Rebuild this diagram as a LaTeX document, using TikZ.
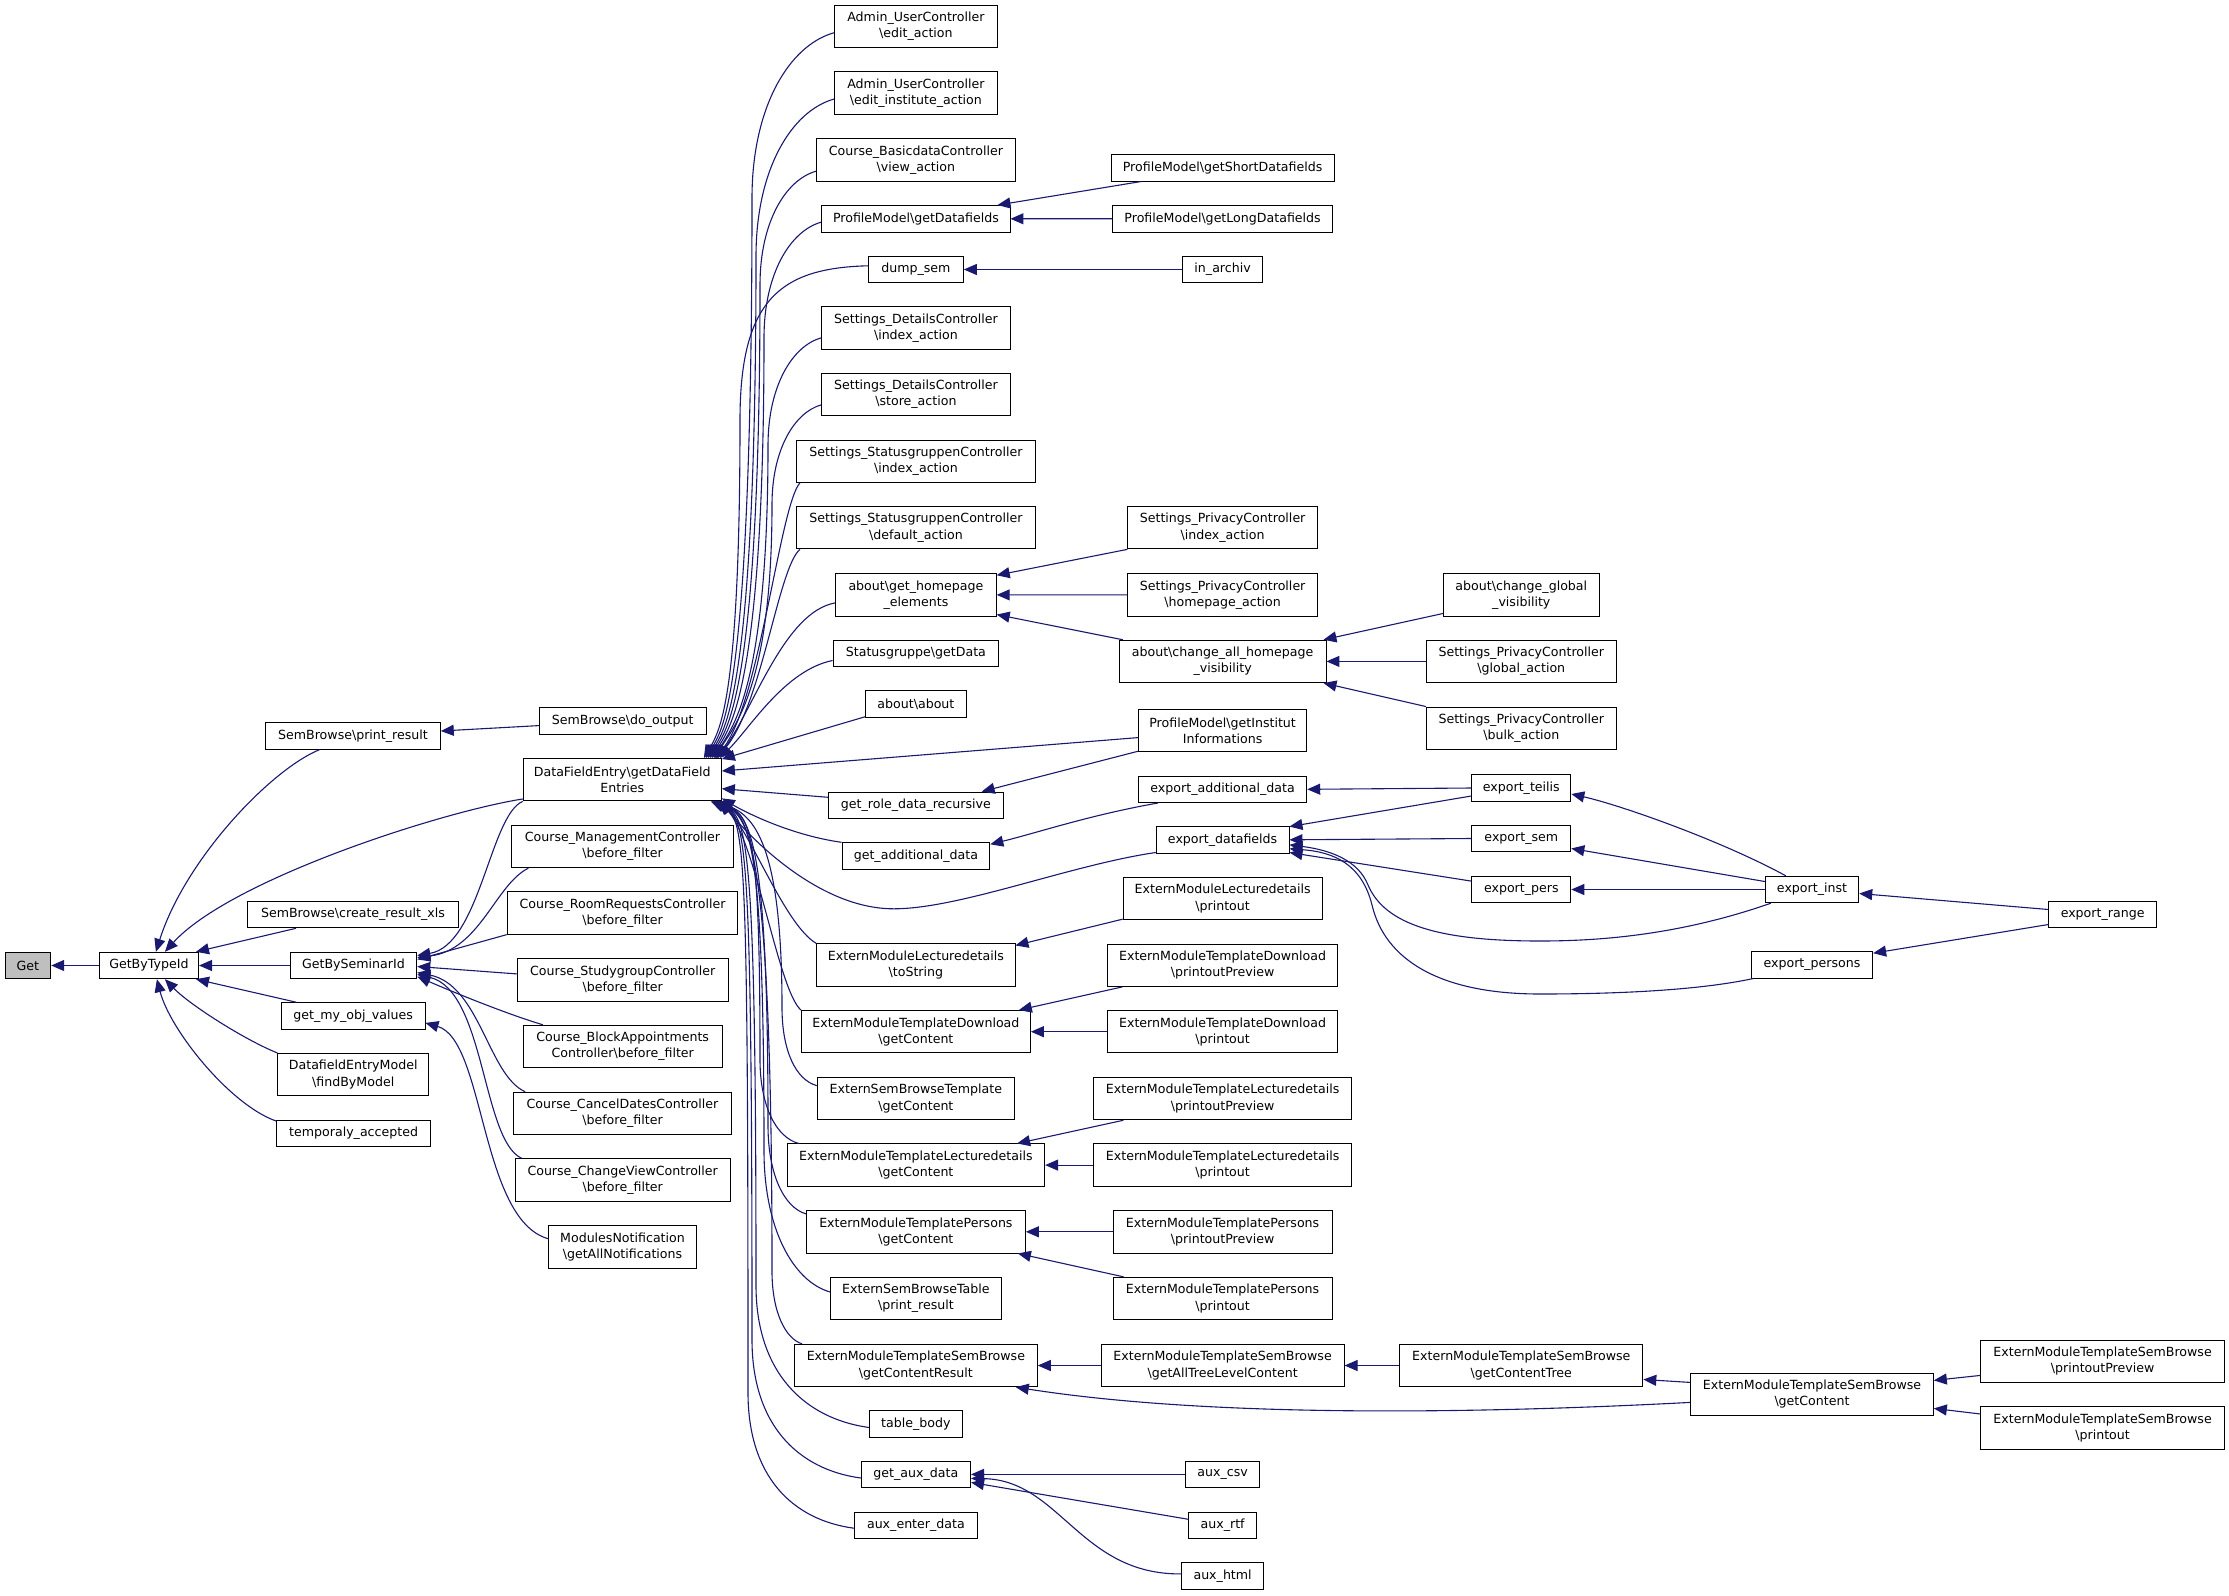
\documentclass[tikz,border=0pt]{standalone}
\usepackage{fontspec}
\setmainfont{DejaVu Sans}
\usetikzlibrary{arrows.meta,calc}
\definecolor{edgeblue}{HTML}{191970}
\definecolor{getgrey}{HTML}{BFBFBF}
\newcommand\dgfont{\fontsize{12.6pt}{16.2pt}\selectfont}
\newcommand\dbs{\textbackslash}
\tikzset{
  n/.style={draw=black, line width=0.9pt, fill=white, inner sep=0pt, minimum height=26.5pt, align=center, font=\dgfont},
  nn/.style={n, minimum height=42.4pt},
  e/.style={draw=edgeblue, line width=1.1pt, -{Triangle[length=13pt,width=11pt]}},
}
\begin{document}
\begin{tikzpicture}[x=1pt,y=-1pt]
\fill[white] (0,0) rectangle (2229,1595);
\useasboundingbox (0,0) rectangle (2229,1595);

% column 0-2
\node[n, fill=getgrey, minimum width=45.7pt] (get) at (27.9,965.5) {Get};
\node[n, minimum width=99.3pt] (gbt) at (148.9,965.5) {GetByTypeId};
\node[n, minimum width=174.6pt] (sbprint) at (353,735.9) {SemBrowse\dbs print\_result};
\node[n, minimum width=210.4pt] (sbcreate) at (353,914.6) {SemBrowse\dbs create\_result\_xls};
\node[n, minimum width=126.8pt] (gbs) at (353.4,965.5) {GetBySeminarId};
\node[n, minimum width=143.6pt] (gmov) at (353.2,1015.9) {get\_my\_obj\_values};
\node[nn, minimum width=150.7pt] (demfind) at (353.2,1074.6) {DatafieldEntryModel\\\dbs findByModel};
\node[n, minimum width=153.6pt] (tempacc) at (353.6,1133.4) {temporaly\_accepted};

% column 3
\node[n, minimum width=166.8pt] (sbdo) at (622.7,721.1) {SemBrowse\dbs do\_output};
\node[nn, minimum width=198.2pt] (dfe) at (622.3,779.7) {DataFieldEntry\dbs getDataField\\Entries};
\node[nn, minimum width=221.4pt] (cmgmt) at (622.5,846.5) {Course\_ManagementController\\\dbs before\_filter};
\node[nn, minimum width=230.8pt] (croom) at (622.5,913) {Course\_RoomRequestsController\\\dbs before\_filter};
\node[nn, minimum width=211pt] (cstudy) at (622.7,979.9) {Course\_StudygroupController\\\dbs before\_filter};
\node[nn, minimum width=198.9pt] (cblock) at (622.7,1046.4) {Course\_BlockAppointments\\Controller\dbs before\_filter};
\node[nn, minimum width=217.8pt] (ccancel) at (622.5,1113.4) {Course\_CancelDatesController\\\dbs before\_filter};
\node[nn, minimum width=215.4pt] (cchange) at (622.7,1179.9) {Course\_ChangeViewController\\\dbs before\_filter};
\node[nn, minimum width=147.2pt] (modnot) at (622.5,1246.8) {ModulesNotification\\\dbs getAllNotifications};

% column 4
\node[nn, minimum width=162.5pt] (adminedit) at (915.9,26.3) {Admin\_UserController\\\dbs edit\_action};
\node[nn, minimum width=162.5pt] (admininst) at (915.9,93) {Admin\_UserController\\\dbs edit\_institute\_action};
\node[nn, minimum width=198.2pt] (cbasic) at (915.9,160.1) {Course\_BasicdataController\\\dbs view\_action};
\node[n, minimum width=188.2pt] (pmgetdf) at (915.9,218.8) {ProfileModel\dbs getDatafields};
\node[n, minimum width=95pt] (dumpsem) at (915.9,269.5) {dump\_sem};
\node[nn, minimum width=188.2pt] (sdindex) at (915.9,327.8) {Settings\_DetailsController\\\dbs index\_action};
\node[nn, minimum width=188.2pt] (sdstore) at (915.9,394.3) {Settings\_DetailsController\\\dbs store\_action};
\node[nn, minimum width=239pt] (ssindex) at (915.9,461.2) {Settings\_StatusgruppenController\\\dbs index\_action};
\node[nn, minimum width=239pt] (ssdefault) at (915.9,527.7) {Settings\_StatusgruppenController\\\dbs default\_action};
\node[nn, minimum width=160.7pt] (abouthome) at (915.9,594.9) {about\dbs get\_homepage\\\_elements};
\node[n, minimum width=165.7pt] (stgetdata) at (915.9,653.5) {Statusgruppe\dbs getData};
\node[n, minimum width=100.4pt] (aboutabout) at (915.9,704) {about\dbs about};
\node[n, minimum width=174.6pt] (getrole) at (915.9,805.3) {get\_role\_data\_recursive};
\node[n, minimum width=147.9pt] (getadd) at (915.9,856) {get\_additional\_data};
\node[nn, minimum width=198.2pt] (emltostr) at (915.9,965.1) {ExternModuleLecturedetails\\\dbs toString};
\node[nn, minimum width=229pt] (emtdget) at (915.9,1031.7) {ExternModuleTemplateDownload\\\dbs getContent};
\node[nn, minimum width=197.5pt] (esbtget) at (915.9,1098.6) {ExternSemBrowseTemplate\\\dbs getContent};
\node[nn, minimum width=257.5pt] (emtlget) at (915.9,1165.1) {ExternModuleTemplateLecturedetails\\\dbs getContent};
\node[nn, minimum width=219pt] (emtpget) at (915.9,1231.8) {ExternModuleTemplatePersons\\\dbs getContent};
\node[nn, minimum width=170.7pt] (esbtable) at (915.9,1298.5) {ExternSemBrowseTable\\\dbs print\_result};
\node[nn, minimum width=242.8pt] (emtsbres) at (915.9,1365.5) {ExternModuleTemplateSemBrowse\\\dbs getContentResult};
\node[n, minimum width=92.5pt] (tablebody) at (915.9,1423.9) {table\_body};
\node[n, minimum width=109.3pt] (getaux) at (915.9,1474.4) {get\_aux\_data};
\node[n, minimum width=122.9pt] (auxenter) at (915.9,1525.2) {aux\_enter\_data};

% column 5
\node[n, minimum width=223pt] (pmshort) at (1222.6,167.9) {ProfileModel\dbs getShortDatafields};
\node[n, minimum width=219.4pt] (pmlong) at (1222.6,218.7) {ProfileModel\dbs getLongDatafields};
\node[n, minimum width=79.6pt] (inarchiv) at (1222.6,269.5) {in\_archiv};
\node[nn, minimum width=189.4pt] (spindex) at (1222.6,527.7) {Settings\_PrivacyController\\\dbs index\_action};
\node[nn, minimum width=189.4pt] (sphome) at (1222.6,594.8) {Settings\_PrivacyController\\\dbs homepage\_action};
\node[nn, minimum width=206.8pt] (aboutall) at (1222.6,661.4) {about\dbs change\_all\_homepage\\\_visibility};
\node[nn, minimum width=168.3pt] (pminst) at (1222.6,730.6) {ProfileModel\dbs getInstitut\\Informations};
\node[n, minimum width=168.3pt] (expadd) at (1222.6,789.3) {export\_additional\_data};
\node[n, minimum width=132.8pt] (expdf) at (1222.6,839.8) {export\_datafields};
\node[nn, minimum width=199pt] (emlprint) at (1222.6,898.5) {ExternModuleLecturedetails\\\dbs printout};
\node[nn, minimum width=229.4pt] (emtdprev) at (1222.6,965.2) {ExternModuleTemplateDownload\\\dbs printoutPreview};
\node[nn, minimum width=229.4pt] (emtdprint) at (1222.6,1031.7) {ExternModuleTemplateDownload\\\dbs printout};
\node[nn, minimum width=257.5pt] (emtlprev) at (1222.6,1098.6) {ExternModuleTemplateLecturedetails\\\dbs printoutPreview};
\node[nn, minimum width=257.5pt] (emtlprint) at (1222.6,1165.1) {ExternModuleTemplateLecturedetails\\\dbs printout};
\node[nn, minimum width=219pt] (emtpprev) at (1222.6,1231.8) {ExternModuleTemplatePersons\\\dbs printoutPreview};
\node[nn, minimum width=219pt] (emtpprint) at (1222.6,1298.5) {ExternModuleTemplatePersons\\\dbs printout};
\node[nn, minimum width=243pt] (emtsbtree) at (1222.6,1365.5) {ExternModuleTemplateSemBrowse\\\dbs getAllTreeLevelContent};
\node[n, minimum width=73.6pt] (auxcsv) at (1222.6,1474.4) {aux\_csv};
\node[n, minimum width=67.4pt] (auxrtf) at (1222.6,1525.3) {aux\_rtf};
\node[n, minimum width=81.4pt] (auxhtml) at (1222.6,1575.9) {aux\_html};

% column 6
\node[nn, minimum width=155.4pt] (aboutglobal) at (1521.3,594.8) {about\dbs change\_global\\\_visibility};
\node[nn, minimum width=189.8pt] (spglobal) at (1521.3,661.4) {Settings\_PrivacyController\\\dbs global\_action};
\node[nn, minimum width=189.8pt] (spbulk) at (1521.3,728.2) {Settings\_PrivacyController\\\dbs bulk\_action};
\node[n, minimum width=99.1pt] (expteilis) at (1521.3,788) {export\_teilis};
\node[n, minimum width=99.1pt] (expsem) at (1521.3,838.5) {export\_sem};
\node[n, minimum width=99.1pt] (exppers) at (1521.3,889.5) {export\_pers};
\node[nn, minimum width=243.1pt] (emtsbctree) at (1521.3,1365.5) {ExternModuleTemplateSemBrowse\\\dbs getContentTree};

% column 7
\node[n, minimum width=93.5pt] (expinst) at (1812,889.5) {export\_inst};
\node[n, minimum width=121.3pt] (exppersons) at (1812,964.9) {export\_persons};
\node[nn, minimum width=242.7pt] (emtsbget) at (1812,1394.4) {ExternModuleTemplateSemBrowse\\\dbs getContent};

% column 8
\node[n, minimum width=107.5pt] (exprange) at (2102.6,914.5) {export\_range};
\node[nn, minimum width=243.4pt] (emtsbprev) at (2102.6,1361.4) {ExternModuleTemplateSemBrowse\\\dbs printoutPreview};
\node[nn, minimum width=243.4pt] (emtsbprint) at (2102.6,1428) {ExternModuleTemplateSemBrowse\\\dbs printout};

% ---- edges: left columns
\draw[e] (gbt.west) -- (get.east);
\draw[e] ($(sbprint.south)+(-33.4,0)$) .. controls (270,770) and (185,860) .. ($(gbt.north)+(7,0)$);
\draw[e] ($(dfe.south west)+(0,-2.4)$) .. controls (440,812) and (230,880) .. ($(gbt.north)+(16,0)$);
\draw[e] ($(sbcreate.south)+(-57,0)$) -- ($(gbt.north east)+(-3,0)$);
\draw[e] (gbs.west) -- (gbt.east);
\draw[e] ($(gmov.north)+(-57,0)$) -- ($(gbt.south east)+(-3,0)$);
\draw[e] (demfind.north west) .. controls (245,1040) and (190,1005) .. ($(gbt.south)+(16,0)$);
\draw[e] ($(tempacc.north west)+(0,1.4)$) .. controls (230,1105) and (170,1030) .. ($(gbt.south)+(8,0)$);
\draw[e] ($(sbdo.west)+(0,4.5)$) -- ($(sbprint.east)+(0,-4.9)$);

% ---- GetBySeminarId callers
\draw[e] (dfe.south west) .. controls (490,815) and (480,945) .. ($(gbs.east)+(0,-10)$);
\draw[e] ($(cmgmt.south west)+(17,0)$) .. controls (495,885) and (480,950) .. ($(gbs.east)+(0,-8)$);
\draw[e] (croom.south west) -- ($(gbs.east)+(0,-6)$);
\draw[e] ($(cstudy.west)+(0,-6)$) -- ($(gbs.east)+(0,1)$);
\draw[e] ($(cblock.north west)+(20,0)$) .. controls (510,1015) and (460,995) .. ($(gbs.east)+(0,11)$);
\draw[e] ($(ccancel.north west)+(12,0)$) .. controls (488,1075) and (480,985) .. ($(gbs.east)+(0,7)$);
\draw[e] ($(cchange.north west)+(7,0)$) .. controls (482,1140) and (485,990) .. ($(gbs.east)+(0,9)$);
\draw[e] ($(modnot.west)+(0,-8)$) .. controls (480,1220) and (485,1040) .. ($(gmov.east)+(0,7)$);

% ---- DataFieldEntry callers above
\draw[e] ($(adminedit.west)+(0,6.4)$) .. controls (789.2,45.1) and (752,107) .. (752,197.9) .. controls (752,688.3) and (723.4,728.3) .. ($(dfe.north east)+(-16,0)$);
\draw[e] ($(admininst.west)+(0,6)$) .. controls (791.4,110.8) and (756,169.7) .. (756,256.2) .. controls (756,688.3) and (725.4,728.3) .. ($(dfe.north east)+(-14,0)$);
\draw[e] ($(cbasic.west)+(0,11)$) .. controls (785.6,179.6) and (760,222.2) .. (760,284.7) .. controls (760,688.3) and (727.4,728.3) .. ($(dfe.north east)+(-12,0)$);
\draw[e] ($(pmgetdf.west)+(0,3.3)$) .. controls (790,230.8) and (764,274.1) .. (764,337.7) .. controls (764,688.3) and (729.4,728.3) .. ($(dfe.north east)+(-10,0)$);
\draw[e] ($(dumpsem.west)+(0,-3.7)$) .. controls (780,268) and (740,300) .. (740,420) .. controls (740,688.3) and (721.4,728.3) .. ($(dfe.north east)+(-18,0)$);
\draw[e] ($(sdindex.west)+(0,10)$) .. controls (792.2,345.9) and (768,386.2) .. (768,445.4) .. controls (768,688.3) and (731.4,728.3) .. ($(dfe.north east)+(-8,0)$);
\draw[e] ($(sdstore.west)+(0,10.5)$) .. controls (794.4,412.3) and (772,449.6) .. (772,504.4) .. controls (772,688.3) and (732.4,728.3) .. ($(dfe.north east)+(-7,0)$);
\draw[e] ($(ssindex.south west)+(4,0)$) .. controls (780,505) and (760,700) .. ($(dfe.north east)+(-6,0)$);
\draw[e] ($(ssdefault.south west)+(4,0)$) .. controls (778,568) and (762,705) .. ($(dfe.north east)+(-5,0)$);
\draw[e] ($(abouthome.west)+(0,8)$) .. controls (785,612) and (755,705) .. ($(dfe.north east)+(-4,0)$);
\draw[e] ($(stgetdata.west)+(0,7)$) .. controls (785,670) and (750,728) .. ($(dfe.north east)+(-2,0)$);
\draw[e] ($(aboutabout.south west)+(0,-1)$) -- ($(dfe.north east)+(0,1)$);

% ---- DataFieldEntry callers right / below
\draw[e] ($(pminst.west)+(0,7)$) -- ($(dfe.east)+(0,-8.7)$);
\draw[e] ($(getrole.west)+(0,-8)$) -- ($(dfe.east)+(0,9)$);
\draw[e] (getadd.north west) .. controls (790,835) and (745,812) .. ($(dfe.south east)+(0,-3)$);
\draw[e] ($(expdf.south west)+(0,-1)$) .. controls (1070,865) and (960,908.8) .. (893.6,908.8) .. controls (820,908.8) and (752,840) .. ($(dfe.south east)+(-1,0)$);
\draw[e] (emltostr.north west) .. controls (785,925) and (752,835) .. ($(dfe.south east)+(-2,0)$);
\draw[e] (emtdget.north west) .. controls (778,990) and (756,840) .. ($(dfe.south east)+(-3,0)$);
\draw[e] ($(esbtget.west)+(0,-13)$) .. controls (795.6,1079.7) and (782,1050.4) .. (782,1007.4) .. controls (782,841) and (752.4,816) .. ($(dfe.south east)+(-4,0)$);
\draw[e] ($(emtlget.north west)+(12,0)$) .. controls (775.9,1137.3) and (760,1105.7) .. (760,1059.4) .. controls (760,841) and (751.4,816) .. ($(dfe.south east)+(-5,0)$);
\draw[e] ($(emtpget.north west)+(0,3.7)$) .. controls (784,1207.5) and (768,1174.2) .. (768,1125.4) .. controls (768,841) and (750.4,816) .. ($(dfe.south east)+(-6,0)$);
\draw[e] ($(esbtable.west)+(0,-6.5)$) .. controls (793,1281.4) and (764,1228.4) .. (764,1150.6) .. controls (764,841) and (749.4,816) .. ($(dfe.south east)+(-7,0)$);
\draw[e] ($(emtsbres.north west)+(8,0)$) .. controls (785,1338.5) and (772,1311.2) .. (772,1271.3) .. controls (772,841) and (748.4,816) .. ($(dfe.south east)+(-8,0)$);
\draw[e] ($(tablebody.west)+(0,3.6)$) .. controls (805,1418.8) and (756,1372.9) .. (756,1285.4) .. controls (756,841) and (747.4,816) .. ($(dfe.south east)+(-9,0)$);
\draw[e] ($(getaux.west)+(0,3.6)$) .. controls (798,1469.5) and (752,1424.8) .. (752,1339.7) .. controls (752,841) and (746.4,816) .. ($(dfe.south east)+(-10,0)$);
\draw[e] ($(auxenter.west)+(0,3)$) .. controls (792,1519.9) and (748,1476) .. (748,1392.6) .. controls (748,841) and (745.4,816) .. ($(dfe.south east)+(-11,0)$);

% ---- right part
\draw[e] ($(pmshort.south west)+(30,0)$) -- ($(pmgetdf.north east)+(-13,0)$);
\draw[e] (pmlong.west) -- (pmgetdf.east);
\draw[e] (inarchiv.west) -- (dumpsem.east);
\draw[e] (spindex.south west) -- ($(abouthome.north east)+(0,2)$);
\draw[e] (sphome.west) -- (abouthome.east);
\draw[e] ($(aboutall.north west)+(4,0)$) -- ($(abouthome.south east)+(0,-2)$);
\draw[e] ($(aboutglobal.south west)+(0,-3)$) -- ($(aboutall.north east)+(-3,0)$);
\draw[e] (spglobal.west) -- (aboutall.east);
\draw[e] (spbulk.north west) -- ($(aboutall.south east)+(-3,0)$);
\draw[e] ($(pminst.south west)+(0,-1)$) -- ($(getrole.north east)+(-22,0)$);
\draw[e] ($(expadd.south west)+(20,0)$) .. controls (1090,815) and (1040,832) .. ($(getadd.north east)+(0,2)$);
\draw[e] (expteilis.west) -- (expadd.east);
\draw[e] ($(expteilis.west)+(0,8)$) -- ($(expdf.north east)+(0,0.5)$);
\draw[e] (expsem.west) -- (expdf.east);
\draw[e] ($(exppers.west)+(0,-8.4)$) -- ($(expdf.south east)+(0,-1)$);
\draw[e] ($(expinst.south west)+(6,0)$) .. controls (1680,935) and (1600,941) .. (1540,941) .. controls (1440,941) and (1385,925) .. (1368,885) .. controls (1358,860) and (1330,850) .. ($(expdf.east)+(0,5)$);
\draw[e] ($(exppersons.south west)+(2,0)$) .. controls (1700,990) and (1620,994) .. (1540,994) .. controls (1440,994) and (1385,960) .. (1372,905) .. controls (1362,865) and (1335,852) .. ($(expdf.east)+(0,9)$);
\draw[e] ($(expinst.north west)+(21,0)$) .. controls (1720,840) and (1620,805) .. ($(expteilis.east)+(0,6)$);
\draw[e] ($(expinst.west)+(0,-8)$) -- ($(expsem.east)+(0,10)$);
\draw[e] (expinst.west) -- (exppers.east);
\draw[e] ($(exprange.west)+(0,-5)$) -- ($(expinst.east)+(0,4)$);
\draw[e] ($(exprange.west)+(0,10)$) -- ($(exppersons.north east)+(0,2)$);
\draw[e] ($(emlprint.south west)+(0,-1)$) -- ($(emltostr.north east)+(0,2)$);
\draw[e] ($(emtdprev.south west)+(15,0)$) -- ($(emtdget.north east)+(-12,0)$);
\draw[e] (emtdprint.west) -- (emtdget.east);
\draw[e] ($(emtlprev.south west)+(30,0)$) -- ($(emtlget.north east)+(-28,0)$);
\draw[e] (emtlprint.west) -- (emtlget.east);
\draw[e] (emtpprev.west) -- (emtpget.east);
\draw[e] ($(emtpprint.north west)+(11,0)$) -- ($(emtpget.south east)+(-8,0)$);
\draw[e] (emtsbtree.west) -- (emtsbres.east);
\draw[e] ($(emtsbget.west)+(0,8)$) .. controls (1450,1415) and (1200,1416) .. ($(emtsbres.south east)+(-22,0)$);
\draw[e] (emtsbctree.west) -- (emtsbtree.east);
\draw[e] ($(emtsbget.west)+(0,-12)$) -- ($(emtsbctree.east)+(0,14)$);
\draw[e] ($(emtsbprev.west)+(0,14)$) -- ($(emtsbget.east)+(0,-14)$);
\draw[e] ($(emtsbprint.west)+(0,-14)$) -- ($(emtsbget.east)+(0,14)$);
\draw[e] (auxcsv.west) -- (getaux.east);
\draw[e] ($(auxrtf.west)+(0,-6)$) -- ($(getaux.east)+(0,8)$);
\draw[e] ($(auxhtml.west)+(0,-2)$) .. controls (1080,1575) and (1060,1480) .. ($(getaux.east)+(0,4)$);
\end{tikzpicture}
\end{document}
